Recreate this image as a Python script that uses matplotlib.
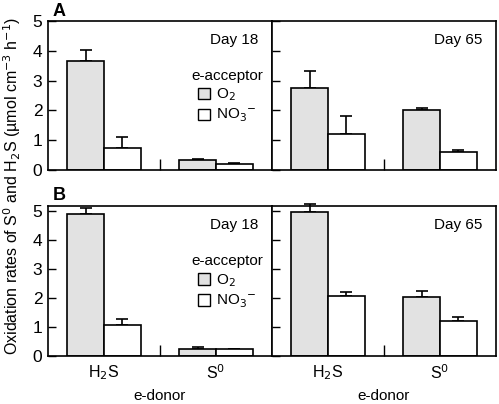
import numpy as np
import matplotlib
matplotlib.use("Agg")
import matplotlib.pyplot as plt
from matplotlib.patches import Patch

plt.rcParams['font.family'] = ['Liberation Sans', 'DejaVu Sans']

# e-donors on the x axis
donors = ['H$_2$S', 'S$^0$']
days = ['Day 18', 'Day 65']

# panel A (rates, two days), values and upper error
A_o2 = [[3.65, 0.32], [2.74, 2.02]]
A_o2_err = [[0.38, 0.05], [0.57, 0.07]]
A_no3 = [[0.73, 0.20], [1.22, 0.61]]
A_no3_err = [[0.38, 0.02], [0.58, 0.07]]

# panel B
B_o2 = [[4.88, 0.23], [4.96, 2.04]]
B_o2_err = [[0.22, 0.09], [0.28, 0.20]]
B_no3 = [[1.08, 0.23], [2.06, 1.22]]
B_no3_err = [[0.20, 0.02], [0.14, 0.14]]

o2_color = '#e2e2e2'
lw = 1.2
fs = 11

fig = plt.figure(figsize=(4.99, 4.04), dpi=100)

left = 48 / 499
pw = 224 / 499
rows = [(1 - 170 / 404, 149 / 404, 5.0, A_o2, A_o2_err, A_no3, A_no3_err, 'A'),
        (1 - 356 / 404, 150 / 404, 5.17, B_o2, B_o2_err, B_no3, B_no3_err, 'B')]

x = np.array([1.0, 3.0])
bw = 0.66

for r, (bot, h, ytop, o2, o2e, no3, no3e, letter) in enumerate(rows):
    for d in range(2):
        ax = fig.add_axes([left + d * pw, bot, pw, h])
        ax.bar(x - bw / 2, o2[d], bw, color=o2_color, edgecolor='black', linewidth=lw, zorder=2)
        ax.bar(x + bw / 2, no3[d], bw, color='white', edgecolor='black', linewidth=lw, zorder=2)
        ax.errorbar(x - bw / 2, o2[d], yerr=[np.zeros(2), o2e[d]], fmt='none', ecolor='black',
                    elinewidth=lw, capsize=4, capthick=lw, zorder=1, clip_on=False)
        ax.errorbar(x + bw / 2, no3[d], yerr=[np.zeros(2), no3e[d]], fmt='none', ecolor='black',
                    elinewidth=lw, capsize=4, capthick=lw, zorder=1, clip_on=False)
        ax.set_xlim(0, 4)
        ax.set_ylim(0, ytop)
        ax.set_yticks(range(6))
        ax.tick_params(axis='y', direction='in', length=6, width=1, labelsize=12.5, pad=4)
        if d == 1:
            ax.set_yticklabels([])
        ax.set_xticks([2], minor=True)
        ax.tick_params(axis='x', which='minor', direction='in', length=8, width=1)
        ax.set_xticks(x)
        if r == 1:
            ax.set_xticklabels(donors, fontsize=11.5)
            ax.set_xlabel('e-donor', fontsize=fs, labelpad=5)
        else:
            ax.set_xticklabels([])
        ax.tick_params(axis='x', which='major', length=0, pad=5)
        for s in ax.spines.values():
            s.set_linewidth(lw)
        ax.text(0.94, 0.87, days[d], transform=ax.transAxes, ha='right', va='center', fontsize=fs)
        if d == 0:
            handles = [Patch(facecolor=o2_color, edgecolor='black', linewidth=1),
                       Patch(facecolor='white', edgecolor='black', linewidth=1)]
            ax.legend(handles, ['O$_2$', 'NO$_3$$^{-}$'], title='e-acceptor', loc='upper right',
                      bbox_to_anchor=(1.0, 0.74), frameon=False, fontsize=fs, title_fontsize=fs,
                      handlelength=0.8, handleheight=0.8, handletextpad=0.4, labelspacing=0.25,
                      borderpad=0.1)
            ax.text(0.02, 1.01, letter, transform=ax.transAxes, ha='left', va='bottom',
                    fontsize=13, fontweight='bold')

fig.text(0.024, 0.54, 'Oxidation rates of S$^0$ and H$_2$S (µmol cm$^{-3}$ h$^{-1}$)',
         rotation=90, ha='center', va='center', fontsize=11.5)

fig.savefig('out.png', dpi=100)
